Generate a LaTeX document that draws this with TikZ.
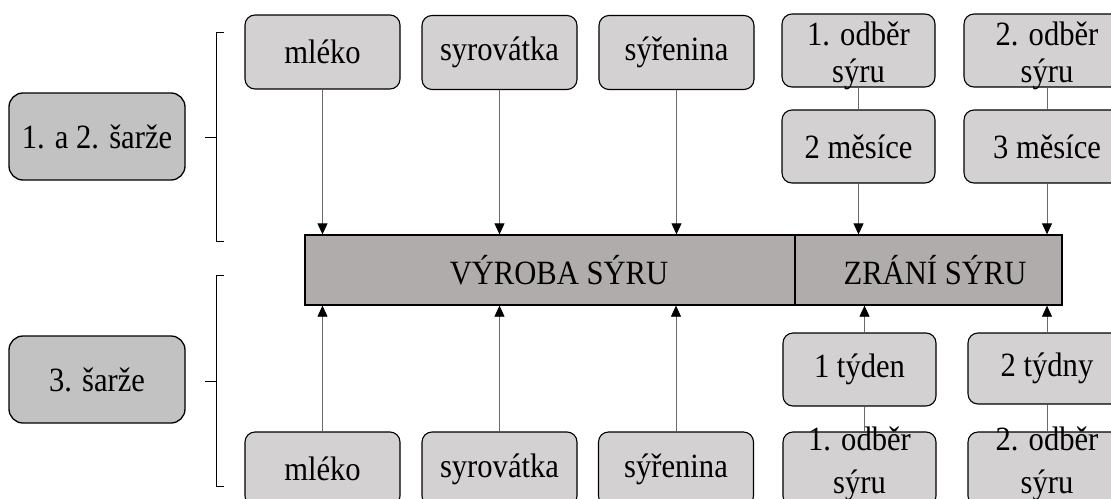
\documentclass[tikz,border=0pt]{standalone}
\usepackage{fontspec}
\setmainfont[FakeStretch=0.9]{Liberation Serif}
\usetikzlibrary{
  arrows.meta
}
\definecolor{boxgray}{HTML}{D3D1D2}
\definecolor{batchgray}{HTML}{C2C2C2}
\definecolor{bargray}{HTML}{B0ACAB}
\definecolor{linkgray}{HTML}{6A6A6A}
\tikzset{
  every node/.append style={
    font=\fontsize{34}{36}\selectfont,
    inner sep=0pt
  },
  itembox/.style={
    draw=black, line width=1.1pt, fill=boxgray,
    rounded corners=10pt, minimum height=74pt,
    align=center
  },
  % two lines (upper row)
  twolinetop/.style={
    font=\fontsize{34}{37}\selectfont,
    text height=63pt, text depth=0pt
  },
  % two lines, looser spacing (lower row)
  twolinebottom/.style={
    font=\fontsize{34}{43}\selectfont,
    text height=48pt, text depth=0pt
  },
  batchbox/.style={
    draw=black, line width=1.3pt, fill=batchgray,
    rounded corners=14pt, minimum width=176pt, minimum height=87pt
  },
  stagebar/.style={
    draw=black, line width=1.3pt, fill=bargray,
    minimum height=70pt
  },
  link/.style={
    draw=linkgray, line width=0.8pt
  },
  feed/.style={
    link,
    -{Triangle[length=11pt,width=10pt,color=black]}
  },
  bracket/.style={
    draw=black, line width=0.9pt
  }
}

\begin{document}
\begin{tikzpicture}[x=1pt,y=-1pt]
\useasboundingbox (0,0) rectangle (1111,498);
\clip (0,0) rectangle (1111,498);

% batches on the left
\node[batchbox] (sarze12) at (97,136.5) {1. a 2. šarže};
\node[batchbox] (sarze3) at (97,379.5) {3. šarže};
\draw[bracket] (224,32) -- (216,32) -- (216,241) -- (224,241);
\draw[bracket] (216,137) -- (205,137);
\draw[bracket] (224,275) -- (216,275) -- (216,486) -- (224,486);
\draw[bracket] (216,381) -- (205,381);

% main stages
\node[stagebar, minimum width=490pt] (vyroba) at (550,270) {};
\node[stagebar, minimum width=267pt] (zrani) at (928.5,270) {};
\node (vyrobatext) at (559,270) {VÝROBA SÝRU};
\node (zranitext) at (935,270) {ZRÁNÍ SÝRU};

% upper row
\node[itembox, minimum width=155pt] (mleko) at (322.5,52) {mléko};
\node[itembox, minimum width=155pt] (syrovatka) at (499.5,52.5) {syrovátka};
\node[itembox, minimum width=155pt] (syrenina) at (676.5,52.5) {sýřenina};
\node[itembox, twolinetop, minimum width=153pt, minimum height=73pt] (odber1) at (858.5,50.5) {1. odběr\\sýru};
\node[itembox, twolinetop, minimum width=166pt, minimum height=73pt] (odber2) at (1047,50.5) {2. odběr\\sýru};
\node[itembox, minimum width=153pt, minimum height=73pt] (mesice2) at (858.5,146.5) {2 měsíce};
\node[itembox, minimum width=166pt, minimum height=73pt] (mesice3) at (1047,146.5) {3 měsíce};

% lower row
\node[itembox, minimum width=155pt] (mlekob) at (322.5,469) {mléko};
\node[itembox, minimum width=155pt] (syrovatkab) at (499.5,469) {syrovátka};
\node[itembox, minimum width=155pt] (syreninab) at (676,469) {sýřenina};
\node[itembox, minimum width=153pt, minimum height=73pt] (tyden1) at (859.5,369.5) {1 týden};
\node[itembox, minimum width=158pt, minimum height=71pt] (tydny2) at (1047,368.5) {2 týdny};
\node[itembox, twolinebottom, minimum width=153pt] (odber1b) at (859.5,469) {1. odběr\\sýru};
\node[itembox, twolinebottom, minimum width=158pt] (odber2b) at (1047,469) {2. odběr\\sýru};

% arrows into the stages
\draw[feed] (mleko.south) -- (mleko.south |- vyroba.north);
\draw[feed] (syrovatka.south) -- (syrovatka.south |- vyroba.north);
\draw[feed] (syrenina.south) -- (syrenina.south |- vyroba.north);
\draw[link] (odber1.south) -- (mesice2.north);
\draw[link] (odber2.south) -- (mesice3.north);
\draw[feed] (mesice2.south) -- (mesice2.south |- zrani.north);
\draw[feed] (mesice3.south) -- (mesice3.south |- zrani.north);

\draw[feed] (mlekob.north) -- (mlekob.north |- vyroba.south);
\draw[feed] (syrovatkab.north) -- (syrovatkab.north |- vyroba.south);
\draw[feed] (syreninab.north) -- (syreninab.north |- vyroba.south);
\draw[link] ([xshift=5pt]odber1b.north) -- ([xshift=5pt]tyden1.south);
\draw[link] (odber2b.north) -- (tydny2.south);
\draw[feed] ([xshift=5pt]tyden1.north) -- ([xshift=5pt]tyden1.north |- zrani.south);
\draw[feed] (tydny2.north) -- (tydny2.north |- zrani.south);
\end{tikzpicture}
\end{document}
